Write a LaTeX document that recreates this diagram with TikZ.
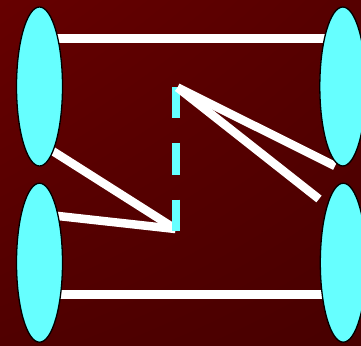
\documentclass[tikz,border=0pt]{standalone}
\usetikzlibrary{shapes.geometric,shadings}
\definecolor{bgul}{RGB}{102,0,0}
\definecolor{bgur}{RGB}{86,0,0}
\definecolor{bgll}{RGB}{80,0,0}
\definecolor{bglr}{RGB}{72,0,0}
\definecolor{cyanfill}{RGB}{102,255,255}
\tikzset{
  blob/.style={ellipse, draw=black, line width=1.3pt, fill=cyanfill,
    minimum width=46pt, minimum height=159pt, inner sep=0pt},
  wline/.style={draw=white, line width=8.5pt, line cap=butt},
  cdash/.style={draw=cyanfill, line width=8.3pt, dash pattern=on 31.5pt off 25pt}
}
\begin{document}
\begin{tikzpicture}[x=1pt,y=-1pt]
\useasboundingbox (0,0) rectangle (361,345);
\shade[upper left=bgul, upper right=bgur, lower left=bgll, lower right=bglr]
  (0,0) rectangle (361,345);
% coordinates
\coordinate (tlh) at (40,38.3);
\coordinate (trh) at (343,38.3);
\coordinate (blh) at (40,294.3);
\coordinate (brh) at (343,294.3);
\coordinate (tls) at (40,143);
\coordinate (bls) at (40,214);
\coordinate (jlow) at (175.5,229);
\coordinate (jtop) at (177.5,87.5);
\coordinate (e1) at (335,166);
\coordinate (e2) at (319,199);
\coordinate (dtop) at (175.8,86.5);
\coordinate (dbot) at (175.8,230.7);
% lines behind
\path[wline] (tlh) -- (trh);
\path[wline] (blh) -- (brh);
\path[wline] (tls) -- (jlow);
\path[wline] (bls) -- (jlow);
\path[cdash] (dtop) -- (dbot);
\path[wline] (jtop) -- (e1);
\path[wline] (jtop) -- (e2);
% ellipses
\node[blob] (tl) at (39.5,86.5) {};
\node[blob] (bl) at (39.5,262.7) {};
\node[blob] (tr) at (342.8,86.5) {};
\node[blob] (br) at (343.3,262.7) {};
\end{tikzpicture}
\end{document}
